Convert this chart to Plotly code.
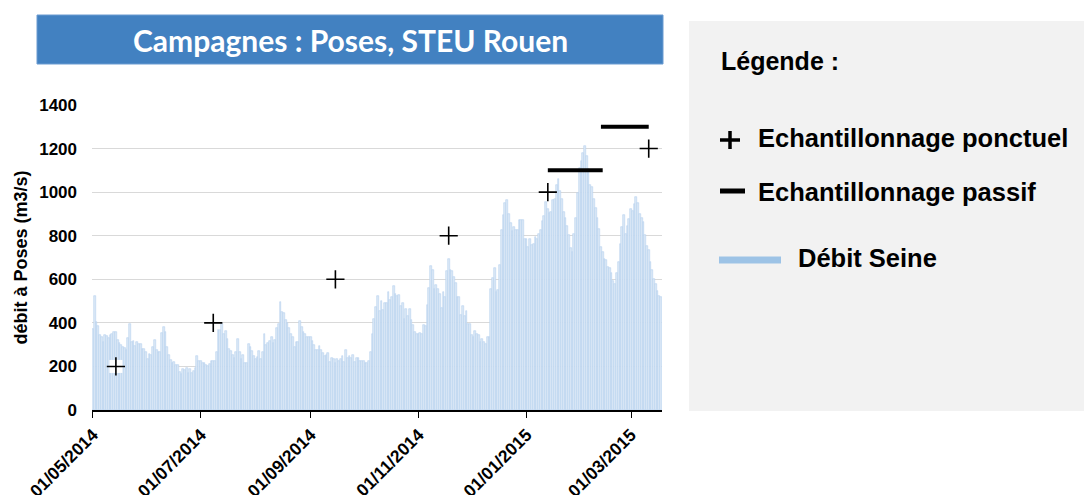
import pandas as pd
import plotly.graph_objects as go

# débit journalier de la Seine à Poses (m3/s)
debit_mai_juin = [371, 524, 406, 386, 344, 333, 310, 345, 340, 330,
                  345, 348, 360, 359, 320, 307, 298, 287, 284, 275,
                  330, 394, 310, 318, 295, 310, 302, 302, 282, 282,
                  264, 234, 257, 253, 287, 322, 275, 264, 267, 353,
                  382, 359, 287, 253, 230, 214, 221, 208, 208, 176,
                  165, 188, 183, 191, 172, 188, 172, 177, 195, 249, 226]
debit_juil_aout = [226, 218, 215, 208, 200, 211, 226, 223, 226, 264,
                   371, 366, 397, 351, 363, 328, 279, 272, 252, 241,
                   264, 328, 267, 234, 253, 218, 218, 302, 287, 272,
                   249, 234, 244, 272, 234, 267, 351, 298, 307, 315,
                   333, 307, 322, 376, 394, 496, 450, 447, 412, 399,
                   376, 351, 336, 290, 310, 310, 409, 379, 359, 348, 333, 333]
debit_sept_oct = [333, 318, 299, 275, 275, 293, 275, 261, 249, 252,
                  261, 221, 241, 234, 218, 234, 226, 234, 249, 221,
                  275, 241, 246, 241, 252, 221, 237, 241, 226, 223,
                  226, 218, 215, 226, 267, 348, 417, 473, 524, 455,
                  501, 460, 489, 493, 542, 504, 519, 570, 531, 524,
                  528, 478, 493, 420, 463, 432, 463, 412, 391, 356, 351]
debit_nov_dec = [351, 354, 347, 389, 386, 481, 560, 660, 641, 554,
                 573, 554, 531, 469, 542, 519, 637, 692, 641, 637,
                 611, 583, 519, 519, 435, 476, 431, 453, 397, 397,
                 344, 336, 362, 347, 344, 310, 324, 313, 305, 333,
                 333, 554, 606, 653, 542, 550, 664, 824, 893, 950,
                 962, 898, 858, 821, 840, 824, 827, 870, 873, 873, 786]
debit_jan_mars = [784, 749, 784, 757, 762, 792, 784, 807, 827, 868,
                  891, 955, 924, 906, 909, 963, 967, 1031, 1062, 1005,
                  967, 911, 880, 845, 804, 742, 723, 810, 880, 998,
                  1112, 1142, 1180, 1214, 1165, 1104, 1033, 1023, 967, 929,
                  883, 830, 746, 726, 693, 690, 655, 652, 627, 594,
                  579, 627, 681, 762, 838, 896, 807, 845, 876, 921,
                  914, 947, 978, 952, 899, 883, 861, 804, 754, 734,
                  678, 643, 602, 579, 548, 525, 518]
date_debut = "2014-05-01"

# échantillonnage ponctuel
ponctuel_dates = ["2014-05-14", "2014-07-08", "2014-09-15", "2014-11-18", "2015-01-13", "2015-03-11"]
ponctuel_y = [200, 400, 600, 800, 1000, 1200]

# échantillonnage passif
passif_debut = ["2015-01-13", "2015-02-12"]
passif_fin = ["2015-02-13", "2015-03-11"]
passif_y = [1100, 1300]

tick_dates = ["2014-05-01", "2014-07-01", "2014-09-01", "2014-11-01", "2015-01-01", "2015-03-01"]
tick_labels = ["01/05/2014", "01/07/2014", "01/09/2014", "01/11/2014", "01/01/2015", "01/03/2015"]

debit = debit_mai_juin + debit_juil_aout + debit_sept_oct + debit_nov_dec + debit_jan_mars
jours = pd.date_range(date_debut, periods=len(debit), freq="D")

# la page ajoute une marge de 8 px : la figure est réduite d'autant
OFF = 8
W, H = 1092 - OFF, 495 - OFF
L, R, T, B = 92, 662, 105, 410   # zone de tracé, en pixels de l'image


def px(x):
    return (x - L) / (R - L)


def py(y):
    return (B - y) / (B - T)


fig = go.Figure()
fig.add_trace(go.Bar(x=jours, y=debit, marker_color="#DCE9F6",
                     marker_line=dict(color="#B7D2EE", width=0.6)))

px_x, px_y = [], []
for d0, d1, v in zip(passif_debut, passif_fin, passif_y):
    px_x += [d0, d1, None]
    px_y += [v, v, None]
fig.add_trace(go.Scatter(x=px_x, y=px_y, mode="lines", line=dict(color="black", width=4)))

fig.add_trace(go.Scatter(x=ponctuel_dates, y=ponctuel_y, mode="markers",
                         marker=dict(symbol="square", size=13, color="white")))
fig.add_trace(go.Scatter(x=ponctuel_dates, y=ponctuel_y, mode="markers",
                         marker=dict(symbol="cross-thin", size=13, line=dict(color="black", width=1.6))))

font_b = "Liberation Sans"
fig.update_layout(
    width=W, height=H, showlegend=False, bargap=0,
    margin=dict(l=L - OFF, r=1092 - R, t=T - OFF, b=495 - B, autoexpand=False),
    plot_bgcolor="white", paper_bgcolor="white",
    font=dict(family=font_b, color="black"),
    xaxis=dict(type="date", range=["2014-04-30 12:00", "2015-03-18 12:00"],
               tickvals=tick_dates, ticktext=["<b>%s</b>" % t for t in tick_labels],
               tickangle=-45, tickfont=dict(size=17.5), ticks="outside", ticklen=6,
               tickwidth=1.3, tickcolor="black", showline=True, linecolor="black",
               linewidth=1.5, showgrid=False, zeroline=False),
    yaxis=dict(range=[0, 1400], dtick=200, tickfont=dict(size=17),
               tickprefix="<b>", ticksuffix="</b>", ticklabelstandoff=14,
               gridcolor="#D9D9D9", gridwidth=1, zeroline=False, showline=False,
               title=dict(text="<b>débit à Poses (m3/s)</b>", font=dict(size=18), standoff=6)),
)

shapes = [
    # bandeau du titre
    dict(type="rect", xref="paper", yref="paper", x0=px(37), x1=px(663), y0=py(64), y1=py(15),
         fillcolor="#4281C1", line=dict(color="#6A9BD1", width=1)),
    # panneau de légende
    dict(type="rect", xref="paper", yref="paper", x0=px(689), x1=px(1092), y0=py(411), y1=py(21),
         fillcolor="#F2F2F2", line=dict(width=0), layer="below"),
    # symbole +
    dict(type="line", xref="paper", yref="paper", x0=px(720), x1=px(740), y0=py(140), y1=py(140),
         line=dict(color="black", width=3.5)),
    dict(type="line", xref="paper", yref="paper", x0=px(730), x1=px(730), y0=py(131), y1=py(149),
         line=dict(color="black", width=3.5)),
    # symbole -
    dict(type="line", xref="paper", yref="paper", x0=px(720), x1=px(745), y0=py(191), y1=py(191),
         line=dict(color="black", width=5)),
    # trait débit
    dict(type="line", xref="paper", yref="paper", x0=px(719), x1=px(781), y0=py(260), y1=py(260),
         line=dict(color="#9DC3E6", width=7)),
]
fig.update_layout(shapes=shapes)

ann = [
    dict(text="<b>Campagnes : Poses, STEU Rouen</b>", x=px(350), y=py(40), xanchor="center",
         yanchor="middle", font=dict(family="Lato", size=30, color="white")),
    dict(text="<b>Légende :</b>", x=px(719), y=py(61), xanchor="left", yanchor="middle",
         font=dict(size=25)),
    dict(text="<b>Echantillonnage ponctuel</b>", x=px(756), y=py(138), xanchor="left",
         yanchor="middle", font=dict(size=25.5)),
    dict(text="<b>Echantillonnage passif</b>", x=px(756), y=py(192), xanchor="left",
         yanchor="middle", font=dict(size=25.5)),
    dict(text="<b>Débit Seine</b>", x=px(796), y=py(258), xanchor="left", yanchor="middle",
         font=dict(size=25.5)),
]
for a in ann:
    a.update(xref="paper", yref="paper", showarrow=False)
fig.update_layout(annotations=ann)

fig.write_html("out.html")
